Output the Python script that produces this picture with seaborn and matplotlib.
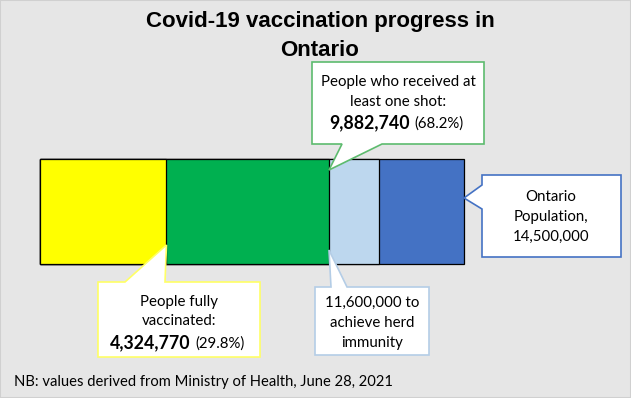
import numpy as np
import pandas as pd
import matplotlib
matplotlib.use('Agg')
import matplotlib.pyplot as plt
import seaborn as sns
from matplotlib.patches import Polygon, Rectangle

# Values (Ministry of Health, June 28, 2021)
segments = ['Ontario population', 'Herd immunity', 'At least one shot', 'Fully vaccinated']
totals = [14500000, 11600000, 9882740, 4324770]
colors = ['#4472C4', '#BDD7EE', '#00B050', '#FFFF00']
pct_one = '(68.2%)'
pct_full = '(29.8%)'

population, herd, one_shot, fully = totals

df = pd.DataFrame({'segment': segments, 'people': totals, 'row': ['Ontario'] * 4})

sns.set_style('white')
plt.rcParams['font.family'] = ['Lato', 'DejaVu Sans']
plt.rcParams['text.color'] = 'black'

W, H = 631, 398
fig = plt.figure(figsize=(W / 100, H / 100), dpi=100, facecolor='#E6E6E6')
ax = fig.add_axes([0, 0, 1, 1])

# largest first so the smaller totals sit on top -> stacked look
sns.barplot(data=df, x='people', y='row', hue='segment', hue_order=segments,
            palette=colors, dodge=False, width=1, saturation=1,
            edgecolor='black', linewidth=0.9, legend=False, ax=ax, orient='h')

# map pixels to data: bar spans px 40..464 and 159..264
s = population / (464 - 40)
ax.set_xlim(-40 * s, (W - 40) * s)
ax.set_ylim((H - 211.5) / 105, -211.5 / 105)
ax.set_axis_off()


def px(x, y):
    return ((x - 40) * s, (y - 211.5) / 105)


def callout(pts, edge):
    poly = Polygon([px(*p) for p in pts], closed=True, facecolor='white',
                   edgecolor=edge, linewidth=1.2, zorder=5)
    ax.add_patch(poly)


def label(x, y, t, **kw):
    X, Y = px(x, y)
    ax.text(X, Y, t, ha=kw.pop('ha', 'center'), va='center', zorder=6, color='black', **kw)


tip_one = (one_shot / s + 40, 170)
tip_full = (fully / s + 40, 245)
tip_herd = (one_shot / s + 40, 250)
tip_pop = (population / s + 40, 198)

# green callout (at least one shot)
callout([(312, 62), (484, 62), (484, 144), (382, 144), tip_one, (342, 144), (312, 144)], '#5DBB6E')
label(398, 82, 'People who received at', fontsize=10.8)
label(398, 102, 'least one shot:', fontsize=10.8)
label(410, 123, '9,882,740', ha='right', fontsize=12.8, fontweight='bold')
label(414, 124, pct_one, ha='left', fontsize=10.8)

# yellow callout (fully vaccinated)
callout([(98, 282), (125, 282), tip_full, (165, 282), (260, 282), (260, 357), (98, 357)], '#FFFF66')
label(179, 302, 'People fully', fontsize=10.8)
label(179, 321, 'vaccinated:', fontsize=10.8)
label(191, 343, '4,324,770', ha='right', fontsize=12.8, fontweight='bold')
label(195, 344, pct_full, ha='left', fontsize=10.8)

# light blue callout (herd immunity)
callout([(315, 287), (331, 287), tip_herd, (347, 287), (429, 287), (429, 355), (315, 355)], '#B4CDE6')
label(372, 303, f'{herd:,} to', fontsize=10.8)
label(372, 323, 'achieve herd', fontsize=10.8)
label(372, 343, 'immunity', fontsize=10.8)

# blue callout (population)
callout([(482, 175), (621, 175), (621, 257), (482, 257), (482, 209), tip_pop, (482, 185)], '#4472C4')
label(551, 197, 'Ontario', fontsize=10.8)
label(551, 217, 'Population,', fontsize=10.8)
label(551, 237, f'{population:,}', fontsize=10.8)

# title and footnote
label(320, 22, 'Covid-19 vaccination progress in', fontsize=16, fontweight='bold',
      family=['Liberation Sans', 'DejaVu Sans'])
label(320, 51, 'Ontario', fontsize=16, fontweight='bold',
      family=['Liberation Sans', 'DejaVu Sans'])
label(14, 382, 'NB: values derived from Ministry of Health, June 28, 2021', ha='left', fontsize=10.6)

fig.patches.append(Rectangle((0, 0), 1, 1, transform=fig.transFigure, fill=False,
                             edgecolor='#D0D0D0', linewidth=1.5))

plt.savefig('out.png', dpi=100, facecolor=fig.get_facecolor())
